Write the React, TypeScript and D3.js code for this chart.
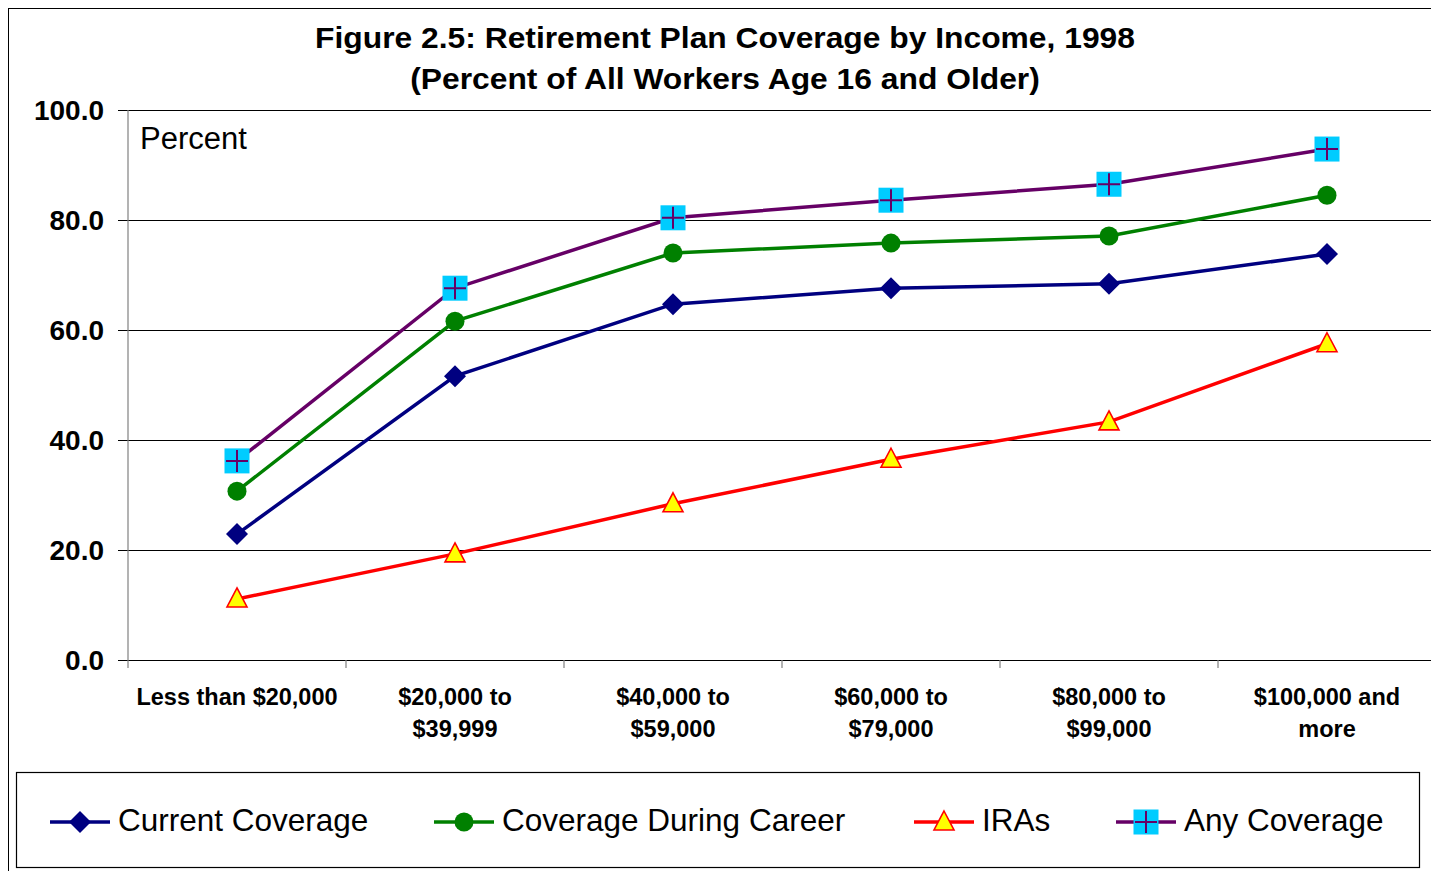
import React from "react";
import * as d3 from "d3";

const categories: string[][] = [
  ["Less than $20,000"],
  ["$20,000 to", "$39,999"],
  ["$40,000 to", "$59,000"],
  ["$60,000 to", "$79,000"],
  ["$80,000 to", "$99,000"],
  ["$100,000 and", "more"],
];
const currentCoverage = [22.9, 51.6, 64.7, 67.6, 68.4, 73.8];
const careerCoverage = [30.7, 61.6, 74.0, 75.8, 77.1, 84.5];
const iras = [11.1, 19.3, 28.4, 36.5, 43.3, 57.5];
const anyCoverage = [36.2, 67.6, 80.4, 83.6, 86.5, 92.9];
const yTicks = [0, 20, 40, 60, 80, 100];

const W = 1431, H = 871;
const FONT = "'Liberation Sans', Arial, sans-serif";

type Series = { name: string; values: number[]; color: string; marker: string };
const series: Series[] = [
  { name: "Current Coverage", values: currentCoverage, color: "#000080", marker: "diamond" },
  { name: "Coverage During Career", values: careerCoverage, color: "#008000", marker: "circle" },
  { name: "IRAs", values: iras, color: "#FF0000", marker: "triangle" },
  { name: "Any Coverage", values: anyCoverage, color: "#660066", marker: "plus" },
];

function Marker({ type, x, y }: { type: string; x: number; y: number }) {
  if (type === "diamond")
    return <path d={`M${x},${y - 11}L${x + 11},${y}L${x},${y + 11}L${x - 11},${y}Z`} fill="#000080" />;
  if (type === "circle") return <circle cx={x} cy={y} r={9.5} fill="#008000" />;
  if (type === "triangle")
    return (
      <path
        d={`M${x},${y - 11}L${x + 10},${y + 8}L${x - 10},${y + 8}Z`}
        fill="#FFFF00"
        stroke="#FF0000"
        strokeWidth={1.6}
      />
    );
  return (
    <g>
      <rect x={x - 12.5} y={y - 12.5} width={25} height={25} fill="#00CCFF" />
      <path d={`M${x - 11},${y}H${x + 11}M${x},${y - 11}V${y + 11}`} stroke="#660066" strokeWidth={2} />
    </g>
  );
}

export default function App() {
  const x = d3.scaleBand<number>().domain(d3.range(categories.length)).range([128, 128 + 218 * 6]);
  const y = d3.scaleLinear().domain([0, 100]).range([660, 110]);
  const cx = (i: number) => (x(i) as number) + x.bandwidth() / 2;
  const line = d3
    .line<number>()
    .x((_, i) => cx(i))
    .y((d) => y(d));

  const legendX = [50, 434, 914, 1116];

  return (
    <svg width={W} height={H} style={{ position: "absolute", left: 0, top: 0 }} fontFamily={FONT}>
      <rect x={0} y={0} width={W} height={H} fill="#fff" />
      <rect x={8.5} y={8.5} width={W} height={H} fill="none" stroke="#000" strokeWidth={1} />
      <g transform="translate(725,0) scale(1.06,1)">
        <text x={0} y={48} textAnchor="middle" fontWeight="bold" fontSize={30}>
          Figure 2.5: Retirement Plan Coverage by Income, 1998
        </text>
        <text x={0} y={89} textAnchor="middle" fontWeight="bold" fontSize={30}>
          (Percent of All Workers Age 16 and Older)
        </text>
      </g>
      {yTicks.map((t) => (
        <g key={t}>
          <line x1={118} x2={W} y1={y(t) + 0.5} y2={y(t) + 0.5} stroke="#000" strokeWidth={1.2} />
          <text x={104} y={y(t) + 10} textAnchor="end" fontWeight="bold" fontSize={28}>
            {t.toFixed(1)}
          </text>
        </g>
      ))}
      <line x1={128} x2={128} y1={110} y2={668} stroke="#808080" strokeWidth={1.2} />
      {d3.range(1, categories.length).map((i) => (
        <line key={i} x1={x(i)} x2={x(i)} y1={660} y2={668} stroke="#808080" strokeWidth={1.2} />
      ))}
      <text x={140} y={149} fontSize={31}>Percent</text>
      {categories.map((lines, i) =>
        lines.map((l, j) => (
          <text key={`${i}-${j}`} x={cx(i)} y={705 + j * 32} textAnchor="middle" fontWeight="bold" fontSize={23.5}>
            {l}
          </text>
        ))
      )}
      {series.map((s) => (
        <g key={s.name}>
          <path d={line(s.values) || ""} fill="none" stroke={s.color} strokeWidth={3.5} />
          {s.values.map((v, i) => (
            <Marker key={i} type={s.marker} x={cx(i)} y={y(v)} />
          ))}
        </g>
      ))}
      <rect x={16.5} y={772.5} width={1403} height={95} fill="none" stroke="#000" strokeWidth={1.2} />
      {series.map((s, k) => (
        <g key={s.name}>
          <line x1={legendX[k]} x2={legendX[k] + 60} y1={822} y2={822} stroke={s.color} strokeWidth={3.5} />
          <Marker type={s.marker} x={legendX[k] + 30} y={822} />
          <text x={legendX[k] + 68} y={831} fontSize={31.5}>
            {s.name}
          </text>
        </g>
      ))}
    </svg>
  );
}
